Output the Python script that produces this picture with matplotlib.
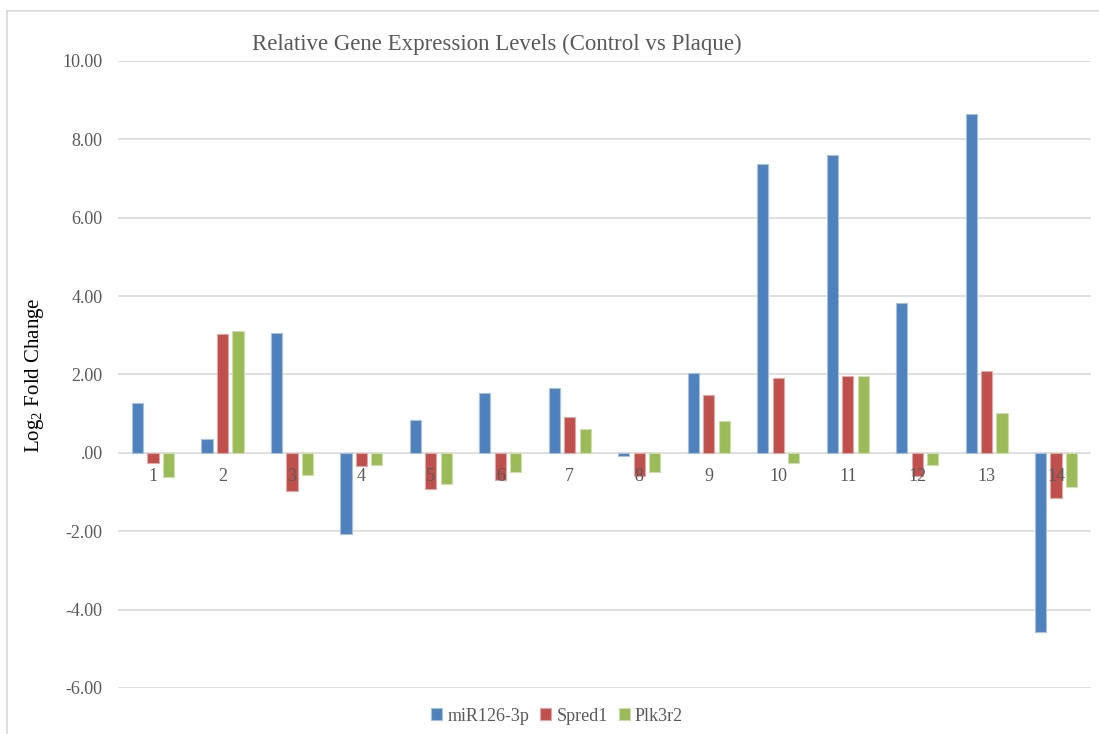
import numpy as np
import matplotlib
matplotlib.use("Agg")
import matplotlib.pyplot as plt
from matplotlib.lines import Line2D

# log2 fold change per sample, one list per gene
categories = ["1", "2", "3", "4", "5", "6", "7", "8", "9", "10", "11", "12", "13", "14"]
mir126 = [1.27, 0.36, 3.05, -2.06, 0.85, 1.52, 1.65, -0.08, 2.03, 7.37, 7.59, 3.83, 8.66, -4.58]
spred1 = [-0.26, 3.03, -0.97, -0.33, -0.93, -0.69, 0.91, -0.60, 1.47, 1.92, 1.95, -0.60, 2.10, -1.14]
plk3r2 = [-0.62, 3.11, -0.57, -0.31, -0.79, -0.48, 0.62, -0.48, 0.82, -0.25, 1.95, -0.31, 1.01, -0.87]
series_names = ["miR126-3p", "Spred1", "Plk3r2"]

y_ticks = [-6, -4, -2, 0, 2, 4, 6, 8, 10]
y_tick_labels = ["-6.00", "-4.00", "-2.00", ".00", "2.00", "4.00", "6.00", "8.00", "10.00"]

plt.rcParams["font.family"] = ["Liberation Serif", "DejaVu Serif"]
plt.rcParams["mathtext.fontset"] = "custom"
plt.rcParams["mathtext.rm"] = "Liberation Serif"

gris = "#595959"
colores = ["#4F81BD", "#C0504D", "#9BBB59"]
bordes = ["#A7C0DE", "#E0A8A6", "#CDDDAC"]

fig = plt.figure(figsize=(10.99, 7.34), dpi=100)
ax = fig.add_axes([0.1074, 0.0627, 0.8853, 0.8542])

x = np.arange(len(categories))
ancho = 0.165
paso = 0.223
for i, (vals, nombre) in enumerate(zip([mir126, spred1, plk3r2], series_names)):
    ax.bar(x + (i - 1) * paso, vals, width=ancho, color=colores[i],
           edgecolor=bordes[i], linewidth=0.8, label=nombre, zorder=2)

# etiquetas de categoria pegadas al cero, como en Excel
for xi, lbl in zip(x, categories):
    ax.annotate(lbl, (xi, 0), xytext=(0, -11), textcoords="offset points",
                ha="center", va="top", fontsize=13, color=gris, zorder=4)

ax.set_xlim(-0.5, len(categories) - 0.5)
ax.set_ylim(-6, 10)
ax.set_yticks(y_ticks)
ax.set_yticklabels(y_tick_labels)
ax.set_xticks([])
ax.tick_params(axis="y", length=0, pad=11, labelsize=13, labelcolor=gris)
ax.yaxis.grid(True, color="#D9D9D9", linewidth=1.2, zorder=0)
ax.set_axisbelow(True)
for s in ax.spines.values():
    s.set_visible(False)

fig.text(0.452, 0.939, "Relative Gene Expression Levels (Control vs Plaque)",
         ha="center", va="center", fontsize=16.5, color=gris)
fig.text(0.031, 0.489, r"Log$_\mathregular{2}$ Fold Change", rotation=90,
         ha="center", va="center", fontsize=15, color="black")

fig.legend(loc="center", bbox_to_anchor=(0.507, 0.0245), ncol=3, frameon=False,
           handlelength=0.6, handleheight=0.6, handletextpad=0.3,
           columnspacing=0.6, fontsize=13, labelcolor=gris)

# borde del area del grafico
x0 = 7 / 1099
y0 = 1 - 11 / 734
fig.add_artist(Line2D([x0, x0], [0, y0], color="#D9D9D9", linewidth=1.2))
fig.add_artist(Line2D([x0, 1], [y0, y0], color="#D9D9D9", linewidth=1.2))

fig.savefig("out.png", dpi=100)
